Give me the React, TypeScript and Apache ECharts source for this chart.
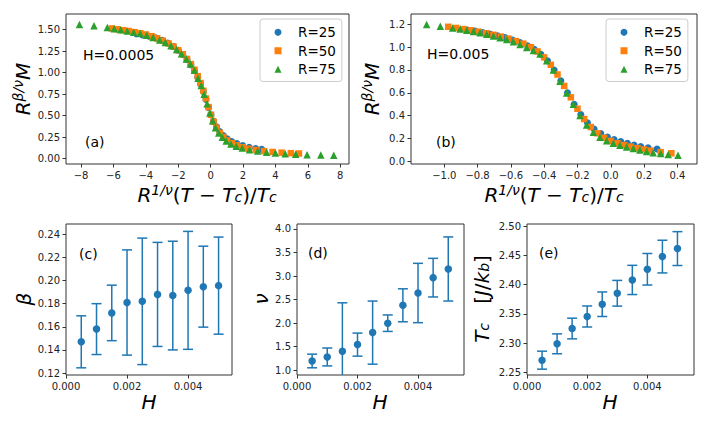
import React, { useEffect, useRef } from "react";
import * as echarts from "echarts";

// ---------- data ----------
const R_LABELS = ["R=25", "R=50", "R=75"];

// panel (a): H=0.0005, [x, y]
const A_R25 = [
  [-4.6, 1.455], [-4.2, 1.44], [-3.8, 1.425], [-3.4, 1.405], [-3.0, 1.378], [-2.65, 1.345],
  [-2.3, 1.305], [-2.0, 1.262], [-1.72, 1.212], [-1.46, 1.155], [-1.22, 1.092], [-1.0, 1.025],
  [-0.8, 0.95], [-0.62, 0.87], [-0.45, 0.78], [-0.29, 0.69], [-0.13, 0.595], [0.02, 0.51],
  [0.18, 0.435], [0.36, 0.37], [0.56, 0.315], [0.78, 0.27], [1.02, 0.232], [1.3, 0.2],
  [1.62, 0.175], [1.98, 0.152], [2.38, 0.133], [2.78, 0.118], [3.15, 0.108],
];
const A_R50 = [
  [-6.1, 1.515], [-5.75, 1.505], [-5.4, 1.495], [-5.05, 1.485], [-4.7, 1.472], [-4.35, 1.46],
  [-4.0, 1.445], [-3.65, 1.425], [-3.3, 1.4], [-2.95, 1.372], [-2.6, 1.34], [-2.3, 1.305],
  [-2.0, 1.262], [-1.72, 1.215], [-1.46, 1.16], [-1.22, 1.1], [-1.0, 1.035], [-0.8, 0.96],
  [-0.62, 0.88], [-0.45, 0.79], [-0.29, 0.7], [-0.13, 0.6], [0.02, 0.51], [0.18, 0.43],
  [0.36, 0.36], [0.56, 0.3], [0.78, 0.252], [1.02, 0.212], [1.3, 0.18], [1.62, 0.155],
  [1.98, 0.133], [2.38, 0.115], [2.82, 0.1], [3.3, 0.088], [3.82, 0.078], [4.38, 0.07],
  [4.95, 0.064], [5.45, 0.06],
];
const A_R75 = [
  [-8.1, 1.56], [-7.2, 1.545], [-6.38, 1.525], [-5.95, 1.51], [-5.55, 1.5], [-5.15, 1.485],
  [-4.75, 1.47], [-4.35, 1.455], [-3.95, 1.435], [-3.55, 1.41], [-3.15, 1.38], [-2.8, 1.35],
  [-2.45, 1.315], [-2.1, 1.27], [-1.8, 1.22], [-1.5, 1.16], [-1.25, 1.1], [-1.0, 1.03],
  [-0.78, 0.935], [-0.58, 0.85], [-0.4, 0.75], [-0.22, 0.64], [-0.05, 0.53], [0.12, 0.44],
  [0.3, 0.36], [0.5, 0.3], [0.72, 0.25], [0.96, 0.205], [1.25, 0.17], [1.58, 0.145],
  [1.95, 0.123], [2.4, 0.103], [2.9, 0.088], [3.45, 0.075], [4.0, 0.066], [4.6, 0.058],
  [5.25, 0.052], [5.95, 0.047], [6.8, 0.043], [7.6, 0.041],
];

// panel (b): H=0.005, [x, y]
const B_R25 = [
  [-0.86, 1.15], [-0.815, 1.14], [-0.77, 1.128], [-0.725, 1.115], [-0.68, 1.1], [-0.635, 1.083],
  [-0.59, 1.063], [-0.545, 1.04], [-0.5, 1.012], [-0.46, 0.98], [-0.42, 0.938], [-0.38, 0.88],
  [-0.34, 0.8], [-0.3, 0.705], [-0.26, 0.6], [-0.22, 0.5], [-0.18, 0.41], [-0.14, 0.338],
  [-0.1, 0.282], [-0.06, 0.242], [-0.02, 0.212], [0.02, 0.19], [0.06, 0.172], [0.1, 0.157],
  [0.14, 0.143], [0.18, 0.13], [0.224, 0.118], [0.278, 0.108],
];
const B_R50 = [
  [-0.976, 1.178], [-0.93, 1.168], [-0.885, 1.158], [-0.84, 1.147], [-0.795, 1.135], [-0.75, 1.122],
  [-0.705, 1.108], [-0.66, 1.092], [-0.615, 1.074], [-0.57, 1.053], [-0.525, 1.03], [-0.48, 1.0],
  [-0.44, 0.962], [-0.4, 0.91], [-0.36, 0.845], [-0.32, 0.76], [-0.28, 0.66], [-0.24, 0.56],
  [-0.2, 0.46], [-0.16, 0.37], [-0.12, 0.3], [-0.08, 0.245], [-0.04, 0.205], [0.0, 0.178],
  [0.04, 0.158], [0.08, 0.142], [0.12, 0.128], [0.16, 0.115], [0.2, 0.103], [0.24, 0.093],
  [0.3, 0.08], [0.364, 0.07],
];
const B_R75 = [
  [-1.106, 1.198], [-1.024, 1.182], [-0.95, 1.168], [-0.905, 1.158], [-0.865, 1.148], [-0.825, 1.137],
  [-0.785, 1.125], [-0.745, 1.112], [-0.705, 1.098], [-0.665, 1.083], [-0.625, 1.066], [-0.585, 1.046],
  [-0.545, 1.022], [-0.505, 0.996], [-0.465, 0.97], [-0.425, 0.94], [-0.385, 0.88], [-0.345, 0.8],
  [-0.305, 0.7], [-0.265, 0.598], [-0.225, 0.5], [-0.185, 0.4], [-0.145, 0.318], [-0.105, 0.255],
  [-0.065, 0.21], [-0.025, 0.18], [0.015, 0.157], [0.055, 0.14], [0.095, 0.125], [0.135, 0.112],
  [0.175, 0.098], [0.215, 0.085], [0.255, 0.075], [0.3, 0.067], [0.345, 0.06], [0.404, 0.052],
];

// panels (c)-(e)
const H_VALUES = [0.0005, 0.001, 0.0015, 0.002, 0.0025, 0.003, 0.0035, 0.004, 0.0045, 0.005];
const BETA = [0.147, 0.158, 0.172, 0.181, 0.182, 0.188, 0.187, 0.1915, 0.1947, 0.1956];
const BETA_ERR = [0.0225, 0.022, 0.024, 0.0455, 0.0547, 0.045, 0.047, 0.051, 0.035, 0.042];
const NU = [1.198, 1.283, 1.403, 1.545, 1.8, 2.0, 2.38, 2.641, 2.967, 3.151];
const NU_ERR = [0.145, 0.19, 1.03, 0.245, 0.67, 0.175, 0.35, 0.63, 0.41, 0.68];
const TC = [2.2708, 2.2988, 2.325, 2.3456, 2.3666, 2.3854, 2.4082, 2.4265, 2.4482, 2.4619];
const TC_ERR = [0.0154, 0.017, 0.0177, 0.018, 0.021, 0.022, 0.025, 0.027, 0.028, 0.029];

// tick values
const A_XTICKS = [-8, -6, -4, -2, 0, 2, 4, 6, 8];
const A_YTICKS = [0, 0.25, 0.5, 0.75, 1.0, 1.25, 1.5];
const B_XTICKS = [-1.0, -0.8, -0.6, -0.4, -0.2, 0.0, 0.2, 0.4];
const B_YTICKS = [0, 0.2, 0.4, 0.6, 0.8, 1.0, 1.2];
const H_TICKS = [0, 0.002, 0.004];
const C_YTICKS = [0.12, 0.14, 0.16, 0.18, 0.2, 0.22, 0.24];
const D_YTICKS = [1.0, 1.5, 2.0, 2.5, 3.0, 3.5, 4.0];
const E_YTICKS = [2.25, 2.3, 2.35, 2.4, 2.45, 2.5];

// ---------- styling ----------
const FONT = "DejaVu Sans";
const BLUE = "#1f77b4";
const ORANGE = "#ff7f0e";
const GREEN = "#2ca02c";
const SERIES_STYLE = [
  { color: BLUE, symbol: "circle", size: 7 },
  { color: ORANGE, symbol: "rect", size: 6.5 },
  { color: GREEN, symbol: "triangle", size: 7.5 },
];

const fmt = (d: number) => (v: number) => v.toFixed(d).replace("-", "\u2212");

function valueAxis(gridIndex: number, min: number, max: number, ticks: number[], dec: number) {
  return {
    type: "value",
    gridIndex,
    min,
    max,
    axisLine: { show: false, onZero: false },
    splitLine: { show: false },
    axisTick: {
      show: true,
      inside: false,
      length: 3.5,
      customValues: ticks,
      lineStyle: { color: "#333", width: 1 },
    },
    axisLabel: {
      customValues: ticks,
      formatter: fmt(dec),
      fontFamily: FONT,
      fontSize: 10,
      color: "#222",
      margin: 6,
      showMinLabel: true,
      showMaxLabel: true,
    },
  };
}

function mathRich(size: number) {
  const mainLh = size * 1.25;
  const smallSize = size * 0.7;
  const smallLh = size * 0.84;
  const mainPb = 4;
  const supPb = mainPb + mainLh / 2 - smallLh / 2 + size * 0.18;
  const subPb = mainPb + mainLh / 2 - smallLh / 2 - size * 0.2;
  return {
    i: { fontFamily: FONT, fontStyle: "italic", fontSize: size, lineHeight: mainLh, verticalAlign: "bottom", padding: [0, 0, mainPb, 0], fill: "#000" },
    n: { fontFamily: FONT, fontSize: size, lineHeight: mainLh, verticalAlign: "bottom", padding: [0, 0, mainPb, 0], fill: "#000" },
    sup: { fontFamily: FONT, fontStyle: "italic", fontSize: smallSize, lineHeight: smallLh, verticalAlign: "bottom", padding: [0, 0, supPb, 0], fill: "#000" },
    sub: { fontFamily: FONT, fontStyle: "italic", fontSize: smallSize, lineHeight: smallLh, verticalAlign: "bottom", padding: [0, 0, subPb, 0], fill: "#000" },
  };
}

function mathText(text: string, x: number, y: number, rotate: boolean, size = 20) {
  return {
    type: "text",
    x,
    y,
    rotation: rotate ? Math.PI / 2 : 0,
    style: {
      text,
      rich: mathRich(size),
      align: "center",
      verticalAlign: "middle",
      fill: "#000",
    },
    z: 10,
  };
}

function plainText(text: string, x: number, y: number) {
  return {
    type: "text",
    x,
    y,
    style: { text, fontFamily: FONT, fontSize: 14, fill: "#000", align: "left", verticalAlign: "middle" },
    z: 10,
  };
}

function errorSeries(idx: number, vals: number[], errs: number[], yMin: number) {
  return {
    type: "custom",
    xAxisIndex: idx,
    yAxisIndex: idx,
    silent: true,
    z: 2,
    data: H_VALUES.map((h, i) => [h, vals[i], errs[i]]),
    encode: { x: 0, y: 1 },
    renderItem: (_params: any, api: any) => {
      const x = api.value(0);
      const y = api.value(1);
      const e = api.value(2);
      const lowClipped = y - e < yMin;
      const top = api.coord([x, y + e]);
      const bot = api.coord([x, lowClipped ? yMin : y - e]);
      const st = { stroke: BLUE, lineWidth: 1.5 };
      const children: any[] = [
        { type: "line", shape: { x1: top[0], y1: top[1], x2: bot[0], y2: bot[1] }, style: st },
        { type: "line", shape: { x1: top[0] - 5, y1: top[1], x2: top[0] + 5, y2: top[1] }, style: st },
      ];
      if (!lowClipped) {
        children.push({ type: "line", shape: { x1: bot[0] - 5, y1: bot[1], x2: bot[0] + 5, y2: bot[1] }, style: st });
      }
      return { type: "group", children };
    },
  };
}

function pointSeries(idx: number, vals: number[]) {
  return {
    type: "scatter",
    xAxisIndex: idx,
    yAxisIndex: idx,
    silent: true,
    z: 3,
    symbol: "circle",
    symbolSize: 7.5,
    itemStyle: { color: BLUE, opacity: 1 },
    data: H_VALUES.map((h, i) => [h, vals[i]]),
  };
}

function collapseSeries(idx: number, sets: number[][][]) {
  return sets.map((d, k) => ({
    type: "scatter",
    name: R_LABELS[k],
    xAxisIndex: idx,
    yAxisIndex: idx,
    silent: true,
    z: 2 + k,
    symbol: SERIES_STYLE[k].symbol,
    symbolSize: SERIES_STYLE[k].size,
    itemStyle: { color: SERIES_STYLE[k].color, opacity: 1 },
    data: d,
  }));
}

function legendAt(left: number) {
  return {
    data: R_LABELS,
    orient: "vertical",
    left,
    top: 19,
    itemWidth: 7,
    itemHeight: 7,
    itemGap: 0,
    padding: [4, 6, 3, 14.5],
    borderColor: "#cccccc",
    borderWidth: 1,
    borderRadius: 3,
    backgroundColor: "rgba(255,255,255,0.8)",
    selectedMode: false,
    textStyle: { fontFamily: FONT, fontSize: 13.5, color: "#000", lineHeight: 18.5, padding: [0, 0, 0, 11.5] },
  };
}

export default function App() {
  const ref = useRef<HTMLDivElement>(null);
  useEffect(() => {
    if (!ref.current) return;
    const chart = echarts.init(ref.current, null, { renderer: "svg" });
    const gridBase = { show: true, borderColor: "#333", borderWidth: 1, backgroundColor: "transparent", containLabel: false };
    const option: any = {
      animation: false,
      backgroundColor: "#fff",
      textStyle: { fontFamily: FONT },
      grid: [
        { ...gridBase, left: 66, top: 14, width: 283, height: 150 },
        { ...gridBase, left: 411, top: 14, width: 286, height: 150 },
        { ...gridBase, left: 66, top: 224, width: 166, height: 151 },
        { ...gridBase, left: 297, top: 224, width: 167, height: 151 },
        { ...gridBase, left: 527, top: 224, width: 167, height: 151 },
      ],
      xAxis: [
        valueAxis(0, -8.93, 8.54, A_XTICKS, 0),
        valueAxis(1, -1.2, 0.518, B_XTICKS, 1),
        valueAxis(2, 0, 0.00544, H_TICKS, 3),
        valueAxis(3, 0, 0.00552, H_TICKS, 3),
        valueAxis(4, 0, 0.00555, H_TICKS, 3),
      ],
      yAxis: [
        valueAxis(0, -0.062, 1.683, A_YTICKS, 2),
        valueAxis(1, -0.024, 1.29, B_YTICKS, 1),
        valueAxis(2, 0.1183, 0.2489, C_YTICKS, 2),
        valueAxis(3, 0.9, 4.106, D_YTICKS, 1),
        valueAxis(4, 2.2454, 2.504, E_YTICKS, 2),
      ],
      legend: [legendAt(260), legendAt(606)],
      series: [
        ...collapseSeries(0, [A_R25, A_R50, A_R75]),
        ...collapseSeries(1, [B_R25, B_R50, B_R75]),
        errorSeries(2, BETA, BETA_ERR, 0.1183),
        pointSeries(2, BETA),
        errorSeries(3, NU, NU_ERR, 0.9),
        pointSeries(3, NU),
        errorSeries(4, TC, TC_ERR, 2.2454),
        pointSeries(4, TC),
      ],
      graphic: [
        plainText("H=0.0005", 83, 55),
        plainText("(a)", 85, 142),
        plainText("H=0.005", 427, 53.5),
        plainText("(b)", 436, 142),
        plainText("(c)", 79, 254),
        plainText("(d)", 308, 253),
        plainText("(e)", 539, 253),
        mathText("{i|R}{sup|1/\u03bd}{n|(}{i|T}{n| \u2212 }{i|T}{sub|c}{n|)/}{i|T}{sub|c}", 207, 196, false),
        mathText("{i|R}{sup|\u03b2/\u03bd}{i|M}", 24, 89, true),
        mathText("{i|R}{sup|1/\u03bd}{n|(}{i|T}{n| \u2212 }{i|T}{sub|c}{n|)/}{i|T}{sub|c}", 554, 196, false),
        mathText("{i|R}{sup|\u03b2/\u03bd}{i|M}", 373, 89, true),
        mathText("{i|H}", 149, 403, false),
        mathText("{i|\u03b2}", 25, 299, true),
        mathText("{i|H}", 380, 403, false),
        mathText("{i|\u03bd}", 262, 299, true),
        mathText("{i|H}", 610, 403, false),
        mathText("{i|T}{sub|c}{n|   [}{i|J}{n|/}{i|k}{sub|b}{n|]}", 483, 299, true),
      ],
    };
    chart.setOption(option);
    return () => chart.dispose();
  }, []);
  return (
    <div
      ref={ref}
      style={{ position: "absolute", left: 0, top: 0, width: 708, height: 425, background: "#fff" }}
    />
  );
}
